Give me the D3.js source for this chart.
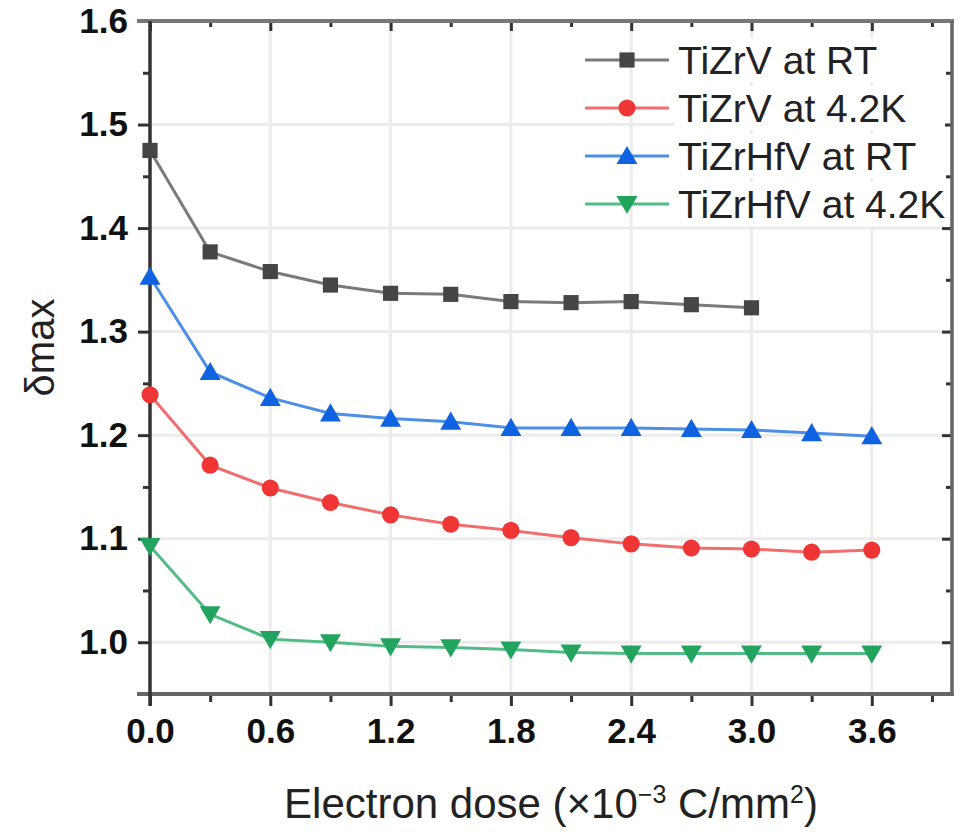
<!DOCTYPE html>
<html>
<head>
<meta charset="utf-8">
<script src="https://cdn.jsdelivr.net/npm/d3@7"></script>
<style>
  body { margin: 0; background: #fff; }
  text { font-family: Arial, "Liberation Sans", sans-serif; }
</style>
</head>
<body>
<script>
// data
const dose = [0, 0.3, 0.6, 0.9, 1.2, 1.5, 1.8, 2.1, 2.4, 2.7, 3.0, 3.3, 3.6];
const tizrvRT = [1.475, 1.377, 1.358, 1.345, 1.337, 1.336, 1.329, 1.328, 1.329, 1.326, 1.323];
const tizrv42 = [1.239, 1.171, 1.149, 1.135, 1.123, 1.114, 1.108, 1.101, 1.095, 1.091, 1.090, 1.087, 1.089];
const tizrhfvRT = [1.353, 1.261, 1.236, 1.221, 1.216, 1.213, 1.207, 1.207, 1.207, 1.206, 1.205, 1.202, 1.199];
const tizrhfv42 = [1.093, 1.027, 1.003, 1.000, 0.996, 0.995, 0.993, 0.990, 0.989, 0.989, 0.989, 0.989, 0.989];

const seriesNames = ["TiZrV at RT", "TiZrV at 4.2K", "TiZrHfV at RT", "TiZrHfV at 4.2K"];
const xTicks = [0, 0.6, 1.2, 1.8, 2.4, 3.0, 3.6];
const yTicks = [1.0, 1.1, 1.2, 1.3, 1.4, 1.5, 1.6];

const series = [
  { name: seriesNames[0], values: tizrvRT, line: "#7a7a7a", fill: "#454545", symbol: d3.symbolSquare, rot: 0 },
  { name: seriesNames[1], values: tizrv42, line: "#f26d6d", fill: "#f03535", symbol: d3.symbolCircle, rot: 0 },
  { name: seriesNames[2], values: tizrhfvRT, line: "#4d8fe6", fill: "#1063e0", symbol: d3.symbolTriangle, rot: 0 },
  { name: seriesNames[3], values: tizrhfv42, line: "#52bb86", fill: "#22a35e", symbol: d3.symbolTriangle, rot: 180 }
];

const W = 962, H = 836;
const margin = { top: 21, right: 10, bottom: 142, left: 150 };

const svg = d3.select("body").append("svg")
  .attr("width", W)
  .attr("height", H);

const x = d3.scaleLinear().domain([0, 4.0]).range([margin.left, W - margin.right]);
const y = d3.scaleLinear().domain([0.95, 1.6]).range([H - margin.bottom, margin.top]);

// grid
svg.append("g").selectAll("line")
  .data(xTicks.slice(1))
  .join("line")
  .attr("x1", d => x(d)).attr("x2", d => x(d))
  .attr("y1", y.range()[1]).attr("y2", y.range()[0])
  .attr("stroke", "#ececec").attr("stroke-width", 3);
svg.append("g").selectAll("line")
  .data(yTicks.slice(0, -1))
  .join("line")
  .attr("x1", x.range()[0]).attr("x2", x.range()[1])
  .attr("y1", d => y(d)).attr("y2", d => y(d))
  .attr("stroke", "#ececec").attr("stroke-width", 3);

// axes
const xMinor = d3.range(0.3, 4.0, 0.6);
const yMinor = d3.range(0.95, 1.6, 0.1);

const axBottom = svg.append("g").attr("transform", `translate(0,${y(0.95)})`);
axBottom.call(d3.axisBottom(x).tickValues(xTicks).tickFormat(d3.format(".1f")).tickSize(12).tickPadding(12));
axBottom.append("g").call(d3.axisBottom(x).tickValues(xMinor).tickFormat("").tickSize(8));

const axTop = svg.append("g").attr("transform", `translate(0,${y(1.6)})`);
axTop.call(d3.axisBottom(x).tickValues(xTicks).tickFormat("").tickSize(10));
axTop.append("g").call(d3.axisBottom(x).tickValues(xMinor).tickFormat("").tickSize(6));

const axLeft = svg.append("g").attr("transform", `translate(${x(0)},0)`);
axLeft.call(d3.axisLeft(y).tickValues(yTicks).tickFormat(d3.format(".1f")).tickSize(12).tickPadding(10));
axLeft.append("g").call(d3.axisLeft(y).tickValues(yMinor).tickFormat("").tickSize(7));

const axRight = svg.append("g").attr("transform", `translate(${x(4.0)},0)`);
axRight.call(d3.axisLeft(y).tickValues(yTicks).tickFormat("").tickSize(10));
axRight.append("g").call(d3.axisLeft(y).tickValues(yMinor).tickFormat("").tickSize(6));

svg.selectAll(".domain").attr("stroke", "none");
svg.selectAll(".tick line").attr("stroke", "#333").attr("stroke-width", 3);
svg.selectAll(".tick text")
  .attr("fill", "#111")
  .style("font-size", "35px")
  .style("font-weight", "bold");

// frame
svg.append("line").attr("x1", x(0) - 13).attr("x2", x(4.0) + 2).attr("y1", y(1.6)).attr("y2", y(1.6))
  .attr("stroke", "#777").attr("stroke-width", 4);
svg.append("line").attr("x1", x(0) - 13).attr("x2", x(4.0) + 2).attr("y1", y(0.95)).attr("y2", y(0.95))
  .attr("stroke", "#666").attr("stroke-width", 4);
svg.append("line").attr("x1", x(0)).attr("x2", x(0)).attr("y1", y(1.6)).attr("y2", y(0.95) + 12)
  .attr("stroke", "#333").attr("stroke-width", 3.5);
svg.append("line").attr("x1", x(4.0)).attr("x2", x(4.0)).attr("y1", y(1.6)).attr("y2", y(0.95))
  .attr("stroke", "#666").attr("stroke-width", 3.5);

// lines and markers
const line = d3.line().x((d, i) => x(dose[i])).y(d => y(d));

series.forEach(s => {
  svg.append("path")
    .datum(s.values)
    .attr("fill", "none")
    .attr("stroke", s.line)
    .attr("stroke-width", 3)
    .attr("d", line);
  svg.append("g").selectAll("path")
    .data(s.values)
    .join("path")
    .attr("d", d3.symbol().type(s.symbol).size(s.symbol === d3.symbolTriangle ? 190 : 230))
    .attr("transform", (d, i) => `translate(${x(dose[i])},${y(d) + (s.rot ? -2 : (s.symbol === d3.symbolTriangle ? 2 : 0))}) rotate(${s.rot})`)
    .attr("fill", s.fill);
});

// legend
const legend = svg.append("g").attr("transform", "translate(585,60)");
series.forEach((s, i) => {
  const g = legend.append("g").attr("transform", `translate(0,${i * 48})`);
  g.append("rect").attr("x", 90).attr("y", -22).attr("width", 270).attr("height", 44).attr("fill", "#fff");
  g.append("line").attr("x1", 0).attr("x2", 84).attr("stroke", s.line).attr("stroke-width", 3);
  g.append("path")
    .attr("d", d3.symbol().type(s.symbol).size(s.symbol === d3.symbolTriangle ? 190 : 230))
    .attr("transform", `translate(42,${s.rot ? -2 : (s.symbol === d3.symbolTriangle ? 2 : 0)}) rotate(${s.rot})`)
    .attr("fill", s.fill);
  g.append("text")
    .attr("x", 93)
    .attr("y", 0)
    .attr("dy", "0.36em")
    .style("font-size", "39px")
    .attr("fill", "#222")
    .text(s.name);
});

// axis titles
svg.append("text")
  .attr("transform", `translate(54,${(y(1.6) + y(0.95)) / 2 - 10}) rotate(-90)`)
  .attr("text-anchor", "middle")
  .style("font-size", "40px")
  .attr("fill", "#222")
  .text("δmax");

const xt = svg.append("text")
  .attr("x", (x(0) + x(4.0)) / 2)
  .attr("y", 818)
  .attr("text-anchor", "middle")
  .style("font-size", "42px")
  .attr("fill", "#222");
xt.append("tspan").text("Electron dose (×10");
xt.append("tspan").attr("dy", -15).style("font-size", "25px").text("−3");
xt.append("tspan").attr("dy", 15).text(" C/mm");
xt.append("tspan").attr("dy", -15).style("font-size", "25px").text("2");
xt.append("tspan").attr("dy", 15).text(")");
</script>
</body>
</html>
